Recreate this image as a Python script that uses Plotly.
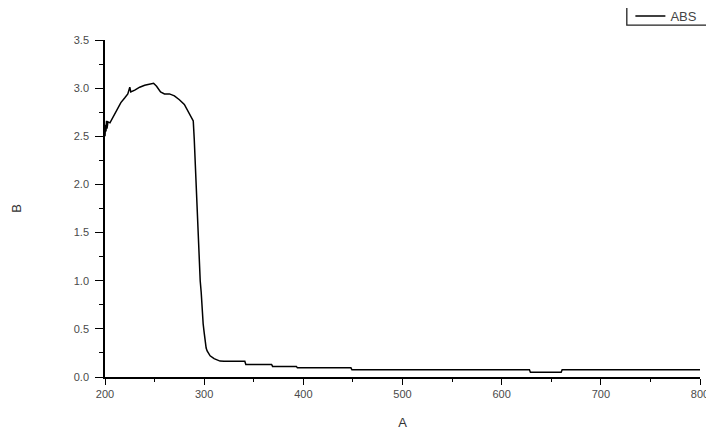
import plotly.graph_objects as go

wavelength = [200, 200.5, 201, 201.5, 202, 203, 205, 207, 210, 213, 216, 220, 223, 225, 226,
              230, 235, 240, 245, 249, 252, 256, 260, 265, 270, 275, 280, 284, 287, 289,
              290, 291, 292, 293, 294, 295, 296, 297, 298, 299, 300, 301, 302, 303, 306,
              310, 316, 320, 341, 342, 368, 369, 393, 394, 448, 449, 628, 629, 660, 661, 800]
absorbance = [2.50, 2.62, 2.55, 2.66, 2.58, 2.65, 2.64, 2.68, 2.74, 2.80, 2.85, 2.90, 2.94, 3.01, 2.96,
              2.98, 3.01, 3.03, 3.04, 3.05, 3.02, 2.96, 2.94, 2.94, 2.92, 2.88, 2.83, 2.76, 2.70, 2.66,
              2.47, 2.20, 1.97, 1.65, 1.35, 1.15, 1.00, 0.88, 0.68, 0.55, 0.46, 0.37, 0.30, 0.27, 0.22,
              0.19, 0.165, 0.164, 0.164, 0.13, 0.13, 0.11, 0.11, 0.095, 0.095, 0.075, 0.075, 0.05, 0.05, 0.075, 0.075]

x_ticks = [200, 300, 400, 500, 600, 700, 800]
y_ticks = [0.0, 0.5, 1.0, 1.5, 2.0, 2.5, 3.0, 3.5]

fig = go.Figure()
fig.add_trace(go.Scatter(x=wavelength, y=absorbance, mode="lines", name="ABS",
                         line=dict(color="black", width=1.5)))

tickfont = dict(family="Liberation Sans, Arial, sans-serif", size=11, color="#4a4a4a")
fig.update_layout(
    width=706, height=424,
    margin=dict(l=97, r=14, t=32, b=55, autoexpand=False),
    paper_bgcolor="white", plot_bgcolor="white",
    showlegend=True,
    legend=dict(x=0.883, y=1.1156, xanchor="left", yanchor="top",
                borderwidth=0, bgcolor="rgba(0,0,0,0)",
                font=dict(family="Liberation Sans, Arial, sans-serif", size=13, color="#444444")),
    shapes=[dict(type="path", xref="paper", yref="paper",
                 path="M 0.877 1.3 L 0.877 1.0444 L 1.0118 1.0444 L 1.0118 1.3",
                 line=dict(color="#222222", width=1.3))],
    xaxis=dict(range=[200, 800], tickvals=x_ticks, ticktext=[str(v) for v in x_ticks],
               showline=True, linecolor="black", linewidth=1.5, mirror=False,
               ticks="outside", ticklen=6, tickcolor="black", tickwidth=1.2,
               minor=dict(ticks="outside", ticklen=3, dtick=50, tickcolor="black", tickwidth=1.2),
               showgrid=False, zeroline=False, tickfont=tickfont,
               title=dict(text="A", font=dict(family="Liberation Sans, Arial, sans-serif", size=13, color="#333333"),
                          standoff=19)),
    yaxis=dict(range=[0, 3.5], tickvals=y_ticks, ticktext=["%.1f" % v for v in y_ticks],
               showline=True, linecolor="black", linewidth=1.5, mirror=False,
               ticks="outside", ticklen=8, tickcolor="black", tickwidth=1.2, ticklabelstandoff=4,
               minor=dict(ticks="outside", ticklen=4, dtick=0.25, tickcolor="black", tickwidth=1.2),
               showgrid=False, zeroline=False, tickfont=tickfont,
               title=dict(text="B", font=dict(family="Liberation Sans, Arial, sans-serif", size=13, color="#333333"),
                          standoff=49)),
)
fig.write_html("out.html")
